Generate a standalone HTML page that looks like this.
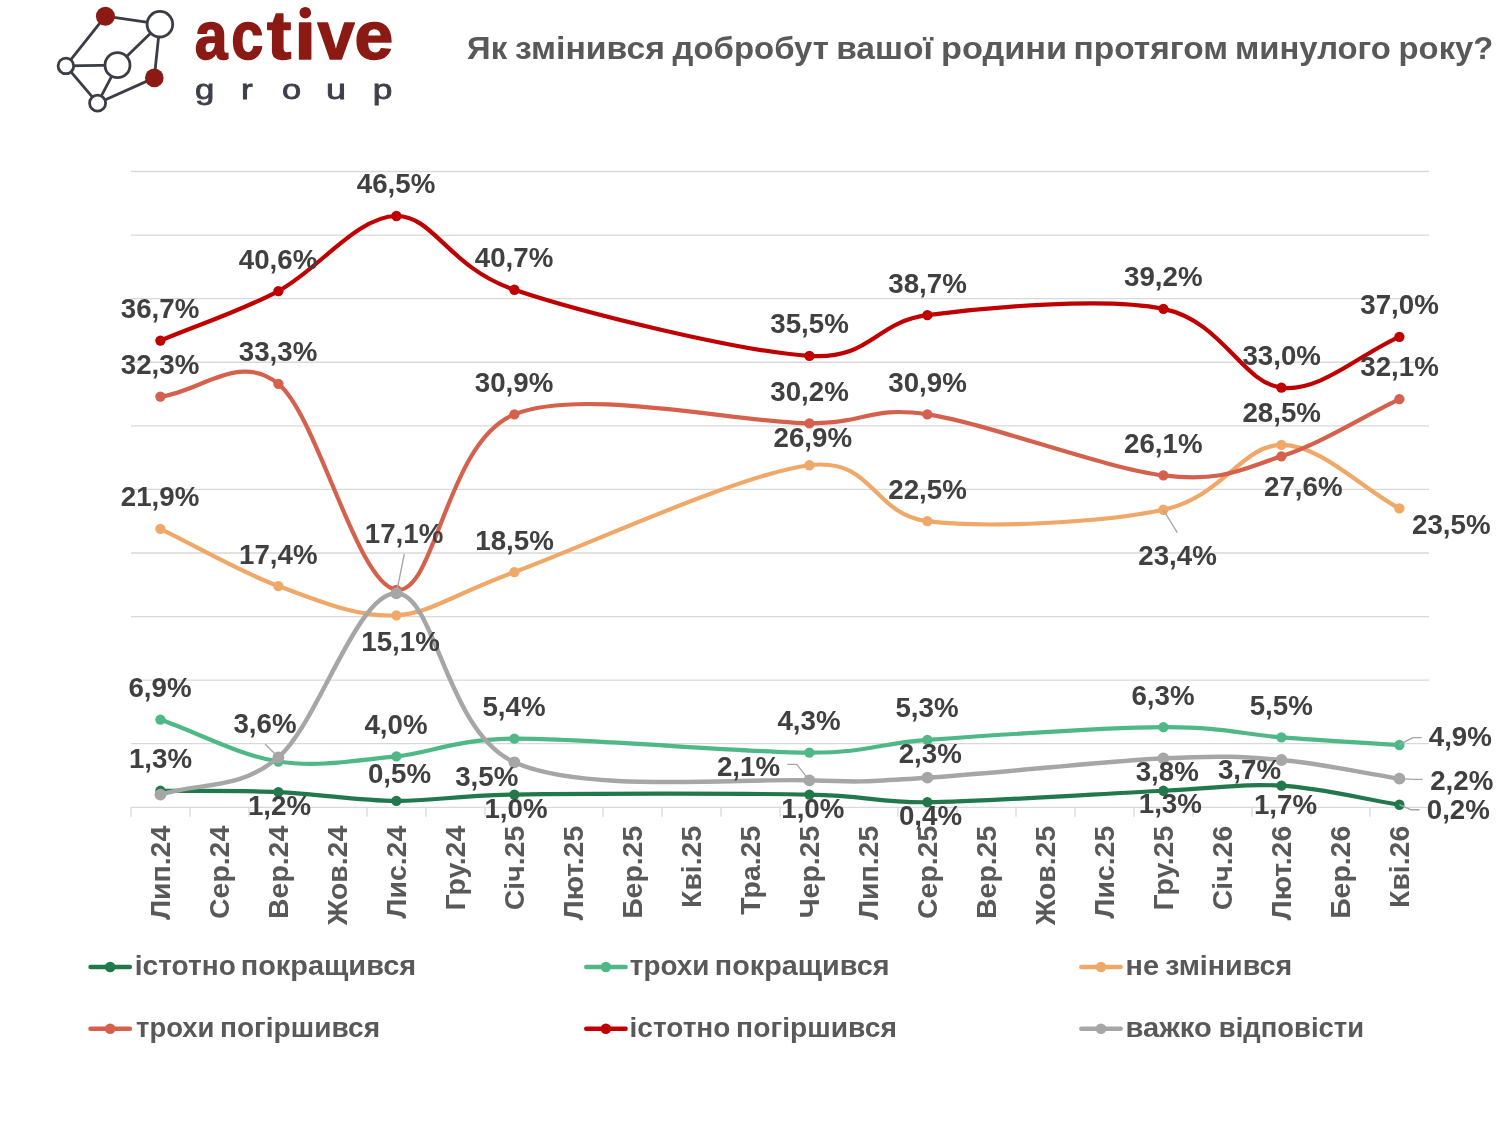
<!DOCTYPE html>
<html><head><meta charset="utf-8"><title>chart</title>
<style>html,body{margin:0;padding:0;background:#fff}body{width:1500px;height:1125px;overflow:hidden}svg{display:block;will-change:transform}text{font-family:"Liberation Sans",sans-serif;font-weight:bold}</style>
</head><body>
<svg width="1500" height="1125" viewBox="0 0 1500 1125">
<rect width="1500" height="1125" fill="#fff"/>
<g stroke="#d9d9d9" stroke-width="1.3" fill="none">
<line x1="131" y1="171.50" x2="1429" y2="171.50"/>
<line x1="131" y1="235.08" x2="1429" y2="235.08"/>
<line x1="131" y1="298.66" x2="1429" y2="298.66"/>
<line x1="131" y1="362.24" x2="1429" y2="362.24"/>
<line x1="131" y1="425.82" x2="1429" y2="425.82"/>
<line x1="131" y1="489.40" x2="1429" y2="489.40"/>
<line x1="131" y1="552.98" x2="1429" y2="552.98"/>
<line x1="131" y1="616.56" x2="1429" y2="616.56"/>
<line x1="131" y1="680.14" x2="1429" y2="680.14"/>
<line x1="131" y1="743.72" x2="1429" y2="743.72"/>
<line x1="131" y1="807.30" x2="1429" y2="807.30"/>
<line x1="131.00" y1="807.3" x2="131.00" y2="816.7"/>
<line x1="190.00" y1="807.3" x2="190.00" y2="816.7"/>
<line x1="249.00" y1="807.3" x2="249.00" y2="816.7"/>
<line x1="308.00" y1="807.3" x2="308.00" y2="816.7"/>
<line x1="367.00" y1="807.3" x2="367.00" y2="816.7"/>
<line x1="426.00" y1="807.3" x2="426.00" y2="816.7"/>
<line x1="485.00" y1="807.3" x2="485.00" y2="816.7"/>
<line x1="544.00" y1="807.3" x2="544.00" y2="816.7"/>
<line x1="603.00" y1="807.3" x2="603.00" y2="816.7"/>
<line x1="662.00" y1="807.3" x2="662.00" y2="816.7"/>
<line x1="721.00" y1="807.3" x2="721.00" y2="816.7"/>
<line x1="780.00" y1="807.3" x2="780.00" y2="816.7"/>
<line x1="839.00" y1="807.3" x2="839.00" y2="816.7"/>
<line x1="898.00" y1="807.3" x2="898.00" y2="816.7"/>
<line x1="957.00" y1="807.3" x2="957.00" y2="816.7"/>
<line x1="1016.00" y1="807.3" x2="1016.00" y2="816.7"/>
<line x1="1075.00" y1="807.3" x2="1075.00" y2="816.7"/>
<line x1="1134.00" y1="807.3" x2="1134.00" y2="816.7"/>
<line x1="1193.00" y1="807.3" x2="1193.00" y2="816.7"/>
<line x1="1252.00" y1="807.3" x2="1252.00" y2="816.7"/>
<line x1="1311.00" y1="807.3" x2="1311.00" y2="816.7"/>
<line x1="1370.00" y1="807.3" x2="1370.00" y2="816.7"/>
<line x1="1429.00" y1="807.3" x2="1429.00" y2="816.7"/>
</g>
<path d="M160.40,790.77 C199.73,791.19 239.07,790.35 278.40,792.04 C317.73,793.74 357.07,800.52 396.40,800.94 C430.16,801.31 455.32,795.49 514.40,794.58 C583.23,793.52 740.57,793.31 809.40,794.58 C868.51,795.68 876.73,802.76 927.40,802.21 C986.40,801.58 1104.40,793.52 1163.40,790.77 C1222.39,788.01 1242.07,783.35 1281.40,785.68 C1320.73,788.01 1360.07,798.40 1399.40,804.76" fill="none" stroke="#21784a" stroke-width="4.2" stroke-linecap="round" stroke-linejoin="round"/>
<g fill="#21784a">
<circle cx="160.40" cy="790.77" r="5.15"/>
<circle cx="278.40" cy="792.04" r="5.15"/>
<circle cx="396.40" cy="800.94" r="5.15"/>
<circle cx="514.40" cy="794.58" r="5.15"/>
<circle cx="809.40" cy="794.58" r="5.15"/>
<circle cx="927.40" cy="802.21" r="5.15"/>
<circle cx="1163.40" cy="790.77" r="5.15"/>
<circle cx="1281.40" cy="785.68" r="5.15"/>
<circle cx="1399.40" cy="804.76" r="5.15"/>
</g>
<path d="M160.40,719.56 C199.73,733.55 239.07,755.38 278.40,761.52 C317.73,767.67 357.07,760.25 396.40,756.44 C430.49,753.13 454.73,739.18 514.40,738.63 C583.23,738.00 740.57,752.41 809.40,752.62 C868.74,752.80 876.54,743.56 927.40,739.91 C986.40,735.67 1104.40,727.61 1163.40,727.19 C1222.40,726.77 1242.07,734.39 1281.40,737.36 C1320.73,740.33 1360.07,742.45 1399.40,744.99" fill="none" stroke="#4fb887" stroke-width="4.2" stroke-linecap="round" stroke-linejoin="round"/>
<g fill="#4fb887">
<circle cx="160.40" cy="719.56" r="5.15"/>
<circle cx="278.40" cy="761.52" r="5.15"/>
<circle cx="396.40" cy="756.44" r="5.15"/>
<circle cx="514.40" cy="738.63" r="5.15"/>
<circle cx="809.40" cy="752.62" r="5.15"/>
<circle cx="927.40" cy="739.91" r="5.15"/>
<circle cx="1163.40" cy="727.19" r="5.15"/>
<circle cx="1281.40" cy="737.36" r="5.15"/>
<circle cx="1399.40" cy="744.99" r="5.15"/>
</g>
<path d="M160.40,528.82 C199.73,547.89 239.07,571.63 278.40,586.04 C317.73,600.45 357.07,617.62 396.40,615.29 C430.15,613.29 455.34,593.51 514.40,572.05 C583.23,547.05 740.57,473.72 809.40,465.24 C874.21,457.26 871.85,514.21 927.40,521.19 C986.40,528.61 1104.40,522.46 1163.40,509.75 C1222.40,497.03 1242.07,445.11 1281.40,444.89 C1320.73,444.68 1360.07,487.28 1399.40,508.47" fill="none" stroke="#f0a868" stroke-width="4.2" stroke-linecap="round" stroke-linejoin="round"/>
<g fill="#f0a868">
<circle cx="160.40" cy="528.82" r="5.15"/>
<circle cx="278.40" cy="586.04" r="5.15"/>
<circle cx="396.40" cy="615.29" r="5.15"/>
<circle cx="514.40" cy="572.05" r="5.15"/>
<circle cx="809.40" cy="465.24" r="5.15"/>
<circle cx="927.40" cy="521.19" r="5.15"/>
<circle cx="1163.40" cy="509.75" r="5.15"/>
<circle cx="1281.40" cy="444.89" r="5.15"/>
<circle cx="1399.40" cy="508.47" r="5.15"/>
</g>
<path d="M160.40,396.57 C199.73,392.33 239.07,351.64 278.40,383.86 C317.73,416.07 357.07,584.77 396.40,589.86 C435.73,594.94 445.57,442.14 514.40,414.38 C583.23,386.61 740.57,423.28 809.40,423.28 C868.57,423.28 868.86,405.75 927.40,414.38 C986.40,423.06 1104.40,468.42 1163.40,475.41 C1222.40,482.41 1242.07,469.05 1281.40,456.34 C1320.73,443.62 1360.07,418.19 1399.40,399.12" fill="none" stroke="#d5604c" stroke-width="4.2" stroke-linecap="round" stroke-linejoin="round"/>
<g fill="#d5604c">
<circle cx="160.40" cy="396.57" r="5.15"/>
<circle cx="278.40" cy="383.86" r="5.15"/>
<circle cx="396.40" cy="589.86" r="5.15"/>
<circle cx="514.40" cy="414.38" r="5.15"/>
<circle cx="809.40" cy="423.28" r="5.15"/>
<circle cx="927.40" cy="414.38" r="5.15"/>
<circle cx="1163.40" cy="475.41" r="5.15"/>
<circle cx="1281.40" cy="456.34" r="5.15"/>
<circle cx="1399.40" cy="399.12" r="5.15"/>
</g>
<path d="M160.40,340.62 C199.73,324.09 239.07,311.80 278.40,291.03 C317.73,270.26 357.07,216.22 396.40,216.01 C434.06,215.80 448.50,267.44 514.40,289.76 C583.23,313.07 740.57,351.64 809.40,355.88 C871.69,359.72 874.01,322.29 927.40,315.19 C986.40,307.35 1104.40,296.75 1163.40,308.83 C1222.40,320.91 1242.07,383.01 1281.40,387.67 C1320.73,392.33 1360.07,353.76 1399.40,336.81" fill="none" stroke="#c00000" stroke-width="4.2" stroke-linecap="round" stroke-linejoin="round"/>
<g fill="#c00000">
<circle cx="160.40" cy="340.62" r="5.15"/>
<circle cx="278.40" cy="291.03" r="5.15"/>
<circle cx="396.40" cy="216.01" r="5.15"/>
<circle cx="514.40" cy="289.76" r="5.15"/>
<circle cx="809.40" cy="355.88" r="5.15"/>
<circle cx="927.40" cy="315.19" r="5.15"/>
<circle cx="1163.40" cy="308.83" r="5.15"/>
<circle cx="1281.40" cy="387.67" r="5.15"/>
<circle cx="1399.40" cy="336.81" r="5.15"/>
</g>
<path d="M160.40,794.58 C199.73,782.16 239.07,790.88 278.40,757.33 C317.73,723.78 357.07,592.46 396.40,593.29 C435.73,594.12 445.57,731.11 514.40,762.29 C583.23,793.46 740.57,777.78 809.40,780.34 C868.37,782.54 868.50,781.33 927.40,777.67 C986.40,774.01 1104.40,761.29 1163.40,758.34 C1222.33,755.40 1242.11,756.61 1281.40,760.00 C1320.73,763.39 1360.07,772.46 1399.40,778.69" fill="none" stroke="#a6a6a6" stroke-width="4.45" stroke-linecap="round" stroke-linejoin="round"/>
<g fill="#a6a6a6">
<circle cx="160.40" cy="794.58" r="5.9"/>
<circle cx="278.40" cy="757.33" r="5.9"/>
<circle cx="396.40" cy="593.29" r="5.9"/>
<circle cx="514.40" cy="762.29" r="5.9"/>
<circle cx="809.40" cy="780.34" r="5.9"/>
<circle cx="927.40" cy="777.67" r="5.9"/>
<circle cx="1163.40" cy="758.34" r="5.9"/>
<circle cx="1281.40" cy="760.00" r="5.9"/>
<circle cx="1399.40" cy="778.69" r="5.9"/>
</g>
<g stroke="#a6a6a6" stroke-width="1.35" fill="none" stroke-linejoin="round">
<path d="M1163.4,510 L1177.3,532.7"/>
<path d="M1399.4,744.7 L1412.8,737.6 L1421.8,737.6"/>
<path d="M1399.4,778.7 L1413.3,779.4 L1422.6,779.4"/>
<path d="M1399.4,804.6 L1410.8,809.7 L1419.6,809.7"/>
<path d="M396.4,593.3 L404.3,554"/>
<path d="M278.4,757.3 L265,744"/>
<path d="M809.4,780.3 L796.7,764.3 L787.3,764.3"/>
</g>
<g fill="#404040" font-size="27.7" text-anchor="middle">
<text transform="translate(160.0,506.3) scale(1,1)">21,9%</text>
<text transform="translate(278.3,563.9) scale(1,1)">17,4%</text>
<text transform="translate(404.0,543.3) scale(1,1)">17,1%</text>
<text transform="translate(514.5,549.9) scale(1,1)">18,5%</text>
<text transform="translate(400.5,651.3) scale(1,1)">15,1%</text>
<text transform="translate(160.0,697.3) scale(1,1)">6,9%</text>
<text transform="translate(265.0,733.3) scale(1,1)">3,6%</text>
<text transform="translate(396.0,733.9) scale(1,1)">4,0%</text>
<text transform="translate(514.0,715.9) scale(1,1)">5,4%</text>
<text transform="translate(160.5,767.9) scale(1,1)">1,3%</text>
<text transform="translate(399.5,782.9) scale(1,1)">0,5%</text>
<text transform="translate(486.7,785.6) scale(1,1)">3,5%</text>
<text transform="translate(279.5,814.6) scale(1,1)">1,2%</text>
<text transform="translate(516.0,818.1) scale(1,1)">1,0%</text>
<text transform="translate(160.0,317.6) scale(1,1)">36,7%</text>
<text transform="translate(278.0,268.6) scale(1,1)">40,6%</text>
<text transform="translate(396.0,193.4) scale(1,1)">46,5%</text>
<text transform="translate(514.0,266.6) scale(1,1)">40,7%</text>
<text transform="translate(160.0,373.6) scale(1,1)">32,3%</text>
<text transform="translate(278.0,361.1) scale(1,1)">33,3%</text>
<text transform="translate(514.0,392.3) scale(1,1)">30,9%</text>
<text transform="translate(809.5,332.9) scale(1,1)">35,5%</text>
<text transform="translate(927.5,292.9) scale(1,1)">38,7%</text>
<text transform="translate(809.5,401.3) scale(1,1)">30,2%</text>
<text transform="translate(927.5,392.3) scale(1,1)">30,9%</text>
<text transform="translate(812.8,447.3) scale(1,1)">26,9%</text>
<text transform="translate(927.5,498.9) scale(1,1)">22,5%</text>
<text transform="translate(1163.3,285.6) scale(1,1)">39,2%</text>
<text transform="translate(1399.5,313.6) scale(1,1)">37,0%</text>
<text transform="translate(1281.7,364.9) scale(1,1)">33,0%</text>
<text transform="translate(1399.5,376.3) scale(1,1)">32,1%</text>
<text transform="translate(1281.7,422.3) scale(1,1)">28,5%</text>
<text transform="translate(1163.3,453.3) scale(1,1)">26,1%</text>
<text transform="translate(1303.3,496.3) scale(1,1)">27,6%</text>
<text transform="translate(1451.3,533.9) scale(1,1)">23,5%</text>
<text transform="translate(1177.5,564.6) scale(1,1)">23,4%</text>
<text transform="translate(1163.0,704.9) scale(1,1)">6,3%</text>
<text transform="translate(1281.2,714.6) scale(1,1)">5,5%</text>
<text transform="translate(1460.3,746.3) scale(1,1)">4,9%</text>
<text transform="translate(1167.2,781.3) scale(1,1)">3,8%</text>
<text transform="translate(1249.5,778.9) scale(1,1)">3,7%</text>
<text transform="translate(1461.7,789.9) scale(1,1)">2,2%</text>
<text transform="translate(1170.3,813.3) scale(1,1)">1,3%</text>
<text transform="translate(1285.5,813.9) scale(1,1)">1,7%</text>
<text transform="translate(1458.3,818.9) scale(1,1)">0,2%</text>
<text transform="translate(809.0,729.6) scale(1,1)">4,3%</text>
<text transform="translate(927.0,717.3) scale(1,1)">5,3%</text>
<text transform="translate(748.5,775.6) scale(1,1)">2,1%</text>
<text transform="translate(930.2,763.1) scale(1,1)">2,3%</text>
<text transform="translate(812.8,818.3) scale(1,1)">1,0%</text>
<text transform="translate(930.5,824.6) scale(1,1)">0,4%</text>
</g>
<g fill="#595959" font-size="28.4" text-anchor="end">
<text transform="translate(169.8,825.8) rotate(-90)">Лип.24</text>
<text transform="translate(228.8,825.8) rotate(-90)">Сер.24</text>
<text transform="translate(287.8,825.8) rotate(-90)">Вер.24</text>
<text transform="translate(346.8,825.8) rotate(-90)">Жов.24</text>
<text transform="translate(405.8,825.8) rotate(-90)">Лис.24</text>
<text transform="translate(464.8,825.8) rotate(-90)">Гру.24</text>
<text transform="translate(523.8,825.8) rotate(-90)">Січ.25</text>
<text transform="translate(582.8,825.8) rotate(-90)">Лют.25</text>
<text transform="translate(641.8,825.8) rotate(-90)">Бер.25</text>
<text transform="translate(700.8,825.8) rotate(-90)">Кві.25</text>
<text transform="translate(759.8,825.8) rotate(-90)">Тра.25</text>
<text transform="translate(818.8,825.8) rotate(-90)">Чер.25</text>
<text transform="translate(877.8,825.8) rotate(-90)">Лип.25</text>
<text transform="translate(936.8,825.8) rotate(-90)">Сер.25</text>
<text transform="translate(995.8,825.8) rotate(-90)">Вер.25</text>
<text transform="translate(1054.8,825.8) rotate(-90)">Жов.25</text>
<text transform="translate(1113.8,825.8) rotate(-90)">Лис.25</text>
<text transform="translate(1172.8,825.8) rotate(-90)">Гру.25</text>
<text transform="translate(1231.8,825.8) rotate(-90)">Січ.26</text>
<text transform="translate(1290.8,825.8) rotate(-90)">Лют.26</text>
<text transform="translate(1349.8,825.8) rotate(-90)">Бер.26</text>
<text transform="translate(1408.8,825.8) rotate(-90)">Кві.26</text>
</g>
<line x1="90.5" y1="967.0" x2="129.9" y2="967.0" stroke="#21784a" stroke-width="4.4" stroke-linecap="round"/>
<circle cx="110.2" cy="967.0" r="5.3" fill="#21784a"/>
<text x="134.84" y="974.6" fill="#595959" font-size="27.2" textLength="100.95" lengthAdjust="spacingAndGlyphs">істотно</text>
<text x="240.68" y="974.6" fill="#595959" font-size="27.2" textLength="175.46" lengthAdjust="spacingAndGlyphs">покращився</text>
<line x1="586.2" y1="967.0" x2="625.6" y2="967.0" stroke="#4fb887" stroke-width="4.4" stroke-linecap="round"/>
<circle cx="605.9" cy="967.0" r="5.3" fill="#4fb887"/>
<text x="629.88" y="974.6" fill="#595959" font-size="27.2" textLength="79.59" lengthAdjust="spacingAndGlyphs">трохи</text>
<text x="714.79" y="974.6" fill="#595959" font-size="27.2" textLength="174.74" lengthAdjust="spacingAndGlyphs">покращився</text>
<line x1="1081.3" y1="967.0" x2="1120.7" y2="967.0" stroke="#f0a868" stroke-width="4.4" stroke-linecap="round"/>
<circle cx="1101.0" cy="967.0" r="5.3" fill="#f0a868"/>
<text x="1125.49" y="974.6" fill="#595959" font-size="27.2" textLength="33.43" lengthAdjust="spacingAndGlyphs">не</text>
<text x="1165.16" y="974.6" fill="#595959" font-size="27.2" textLength="126.96" lengthAdjust="spacingAndGlyphs">змінився</text>
<line x1="90.5" y1="1028.7" x2="129.9" y2="1028.7" stroke="#d5604c" stroke-width="4.4" stroke-linecap="round"/>
<circle cx="110.2" cy="1028.7" r="5.3" fill="#d5604c"/>
<text x="135.99" y="1036.9" fill="#595959" font-size="27.2" textLength="78.45" lengthAdjust="spacingAndGlyphs">трохи</text>
<text x="219.94" y="1036.9" fill="#595959" font-size="27.2" textLength="160.11" lengthAdjust="spacingAndGlyphs">погіршився</text>
<line x1="586.2" y1="1028.7" x2="625.6" y2="1028.7" stroke="#c00000" stroke-width="4.4" stroke-linecap="round"/>
<circle cx="605.9" cy="1028.7" r="5.3" fill="#c00000"/>
<text x="629.54" y="1036.9" fill="#595959" font-size="27.2" textLength="100.84" lengthAdjust="spacingAndGlyphs">істотно</text>
<text x="736.13" y="1036.9" fill="#595959" font-size="27.2" textLength="160.73" lengthAdjust="spacingAndGlyphs">погіршився</text>
<line x1="1081.3" y1="1028.7" x2="1120.7" y2="1028.7" stroke="#a6a6a6" stroke-width="4.4" stroke-linecap="round"/>
<circle cx="1101.0" cy="1028.7" r="5.3" fill="#a6a6a6"/>
<text x="1125.47" y="1036.9" fill="#595959" font-size="27.2" textLength="86.36" lengthAdjust="spacingAndGlyphs">важко</text>
<text x="1218.89" y="1036.9" fill="#595959" font-size="27.2" textLength="145.17" lengthAdjust="spacingAndGlyphs">відповісти</text>
<text x="467.07" y="59.3" fill="#595959" font-size="31.5" textLength="40.03" lengthAdjust="spacingAndGlyphs">Як</text>
<text x="515.14" y="59.3" fill="#595959" font-size="31.5" textLength="149.71" lengthAdjust="spacingAndGlyphs">змінився</text>
<text x="672.59" y="59.3" fill="#595959" font-size="31.5" textLength="156.30" lengthAdjust="spacingAndGlyphs">добробут</text>
<text x="836.16" y="59.3" fill="#595959" font-size="31.5" textLength="96.73" lengthAdjust="spacingAndGlyphs">вашої</text>
<text x="941.02" y="59.3" fill="#595959" font-size="31.5" textLength="125.99" lengthAdjust="spacingAndGlyphs">родини</text>
<text x="1073.56" y="59.3" fill="#595959" font-size="31.5" textLength="154.44" lengthAdjust="spacingAndGlyphs">протягом</text>
<text x="1235.01" y="59.3" fill="#595959" font-size="31.5" textLength="155.93" lengthAdjust="spacingAndGlyphs">минулого</text>
<text x="1398.62" y="59.3" fill="#595959" font-size="31.5" textLength="94.67" lengthAdjust="spacingAndGlyphs">року?</text>
<g stroke="#3b3d46" stroke-width="2.8" fill="none" stroke-linecap="round">
<line x1="105.4" y1="16.2" x2="159.9" y2="24.2"/>
<line x1="105.4" y1="16.2" x2="65.9" y2="65.9"/>
<line x1="159.9" y1="24.2" x2="117.5" y2="65.2"/>
<line x1="159.9" y1="24.2" x2="154.3" y2="77.9"/>
<line x1="65.9" y1="65.9" x2="117.5" y2="65.2"/>
<line x1="65.9" y1="65.9" x2="97.6" y2="103.2"/>
<line x1="117.5" y1="65.2" x2="97.6" y2="103.2"/>
<line x1="97.6" y1="103.2" x2="154.3" y2="77.9"/>
</g>
<g stroke="#3b3d46" stroke-width="2.8" fill="#fff">
<circle cx="159.9" cy="24.2" r="12.8"/>
<circle cx="117.5" cy="65.2" r="12.5"/>
<circle cx="65.9" cy="65.9" r="7.8"/>
<circle cx="97.6" cy="103.2" r="8.0"/>
</g>
<g fill="#8b1a14">
<circle cx="105.4" cy="16.2" r="9.5"/>
<circle cx="154.3" cy="77.9" r="9.3"/>
</g>
<g fill="#8b1a14" stroke="#8b1a14" stroke-width="1.6" stroke-linejoin="round" font-size="68.0">
<text x="194.66" y="58.9" textLength="32.82" lengthAdjust="spacingAndGlyphs">a</text>
<text x="231.21" y="58.9" textLength="32.11" lengthAdjust="spacingAndGlyphs">c</text>
<text x="267.04" y="58.9" textLength="24.37" lengthAdjust="spacingAndGlyphs">t</text>
<text x="294.38" y="58.9" textLength="21.74" lengthAdjust="spacingAndGlyphs">ı</text>
<text x="317.51" y="58.9" textLength="37.11" lengthAdjust="spacingAndGlyphs">v</text>
<text x="354.63" y="58.9" textLength="38.74" lengthAdjust="spacingAndGlyphs">e</text>
<circle cx="305.3" cy="12.7" r="5.0"/>
</g>
<g fill="#3d3f4a" stroke="#3d3f4a" stroke-width="0.8" font-size="28.5" style="font-weight:normal">
<text x="194.94" y="98.8" style="font-weight:normal" textLength="19.32" lengthAdjust="spacingAndGlyphs">g</text>
<text x="240.95" y="98.8" style="font-weight:normal" textLength="11.76" lengthAdjust="spacingAndGlyphs">r</text>
<text x="281.95" y="98.8" style="font-weight:normal" textLength="19.14" lengthAdjust="spacingAndGlyphs">o</text>
<text x="326.00" y="98.8" style="font-weight:normal" textLength="20.04" lengthAdjust="spacingAndGlyphs">u</text>
<text x="372.77" y="98.8" style="font-weight:normal" textLength="19.66" lengthAdjust="spacingAndGlyphs">p</text>
</g>
</svg></body></html>
